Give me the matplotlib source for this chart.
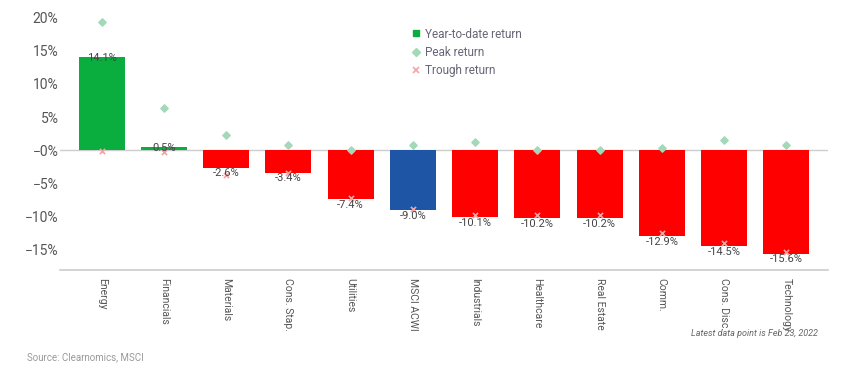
import matplotlib.pyplot as plt
from matplotlib.lines import Line2D

sectors = ['Energy', 'Financials', 'Materials', 'Cons. Stap.', 'Utilities', 'MSCI ACWI',
           'Industrials', 'Healthcare', 'Real Estate', 'Comm.', 'Cons. Disc.', 'Technology']
ytd = [14.1, 0.5, -2.6, -3.4, -7.4, -9.0, -10.1, -10.2, -10.2, -12.9, -14.5, -15.6]
peak = [19.3, 6.3, 2.3, 0.8, 0.1, 0.8, 1.2, 0.1, 0.0, 0.4, 1.6, 0.8]
trough = [-0.1, -0.3, -3.8, -3.4, -7.2, -8.8, -9.7, -9.8, -9.8, -12.5, -14.0, -15.3]
yticks = [20, 15, 10, 5, 0, -5, -10, -15]
ytick_labels = ['20%', '15%', '10%', '5%', '\u22120%', '\u22125%', '\u221210%', '\u221215%']

green = '#0aae3f'
red = '#ff0000'
blue = '#1f55a5'
grey = '#555555'

plt.rcParams['font.family'] = ['Roboto', 'DejaVu Sans']

fig = plt.figure(figsize=(8.5, 3.7), dpi=100)
ax = fig.add_axes([60 / 850, 100 / 370, 768 / 850, 265 / 370])

x = list(range(len(sectors)))
colors = []
for name, v in zip(sectors, ytd):
    if name == 'MSCI ACWI':
        colors.append(blue)
    elif v >= 0:
        colors.append(green)
    else:
        colors.append(red)

ax.bar(x, ytd, width=0.74, color=colors, zorder=2)
ax.scatter(x, peak, marker='D', s=14, color='#a3d9b8', zorder=3)
ax.scatter(x, trough, marker='x', s=14, color='#f3a3a3', linewidths=1.2, zorder=3)

for xi, v in zip(x, ytd):
    if v >= 0:
        ax.text(xi, v - 0.9, f'{v:.1f}%', ha='center', va='bottom', fontsize=8, color='#444444', zorder=4)
    else:
        ax.text(xi, v - 0.1, f'{v:.1f}%', ha='center', va='top', fontsize=8, color='#444444', zorder=4)

ax.axhline(0, color='#cccccc', lw=1, zorder=1)
ax.set_xlim(-0.67, 11.67)
ax.set_ylim(-18.05, 21.9)
ax.set_yticks(yticks)
ax.set_yticklabels(ytick_labels)
ax.set_xticks(x)
ax.set_xticklabels(sectors, rotation=270, va='top', ha='center')
ax.tick_params(axis='y', length=0, colors=grey, labelsize=10, pad=1)
ax.tick_params(axis='x', length=0, colors=grey, labelsize=7.5, pad=6)
for s in ['top', 'right', 'left']:
    ax.spines[s].set_visible(False)
ax.spines['bottom'].set_color('#cccccc')
ax.spines['bottom'].set_linewidth(1.2)

handles = [
    Line2D([], [], marker='s', ls='', color=green, markersize=5),
    Line2D([], [], marker='D', ls='', color='#a3d9b8', markersize=4),
    Line2D([], [], marker='x', ls='', color='#f3a3a3', markersize=4, mew=1.2),
]
leg = ax.legend(handles, ['Year-to-date return', 'Peak return', 'Trough return'],
                loc='upper left', bbox_to_anchor=(0.442, 0.955), frameon=False,
                fontsize=8.5, handletextpad=0.3, labelspacing=0.45, handlelength=1)
for t in leg.get_texts():
    t.set_color('#666677')

fig.text(818 / 850, 1 - 334 / 370, 'Latest data point is Feb 23, 2022', ha='right', va='center',
         fontsize=6.5, style='italic', color='#666666')
fig.text(27 / 850, 1 - 357 / 370, 'Source: Clearnomics, MSCI', ha='left', va='center',
         fontsize=7, color='#999999')

fig.savefig('out.png', dpi=100)
